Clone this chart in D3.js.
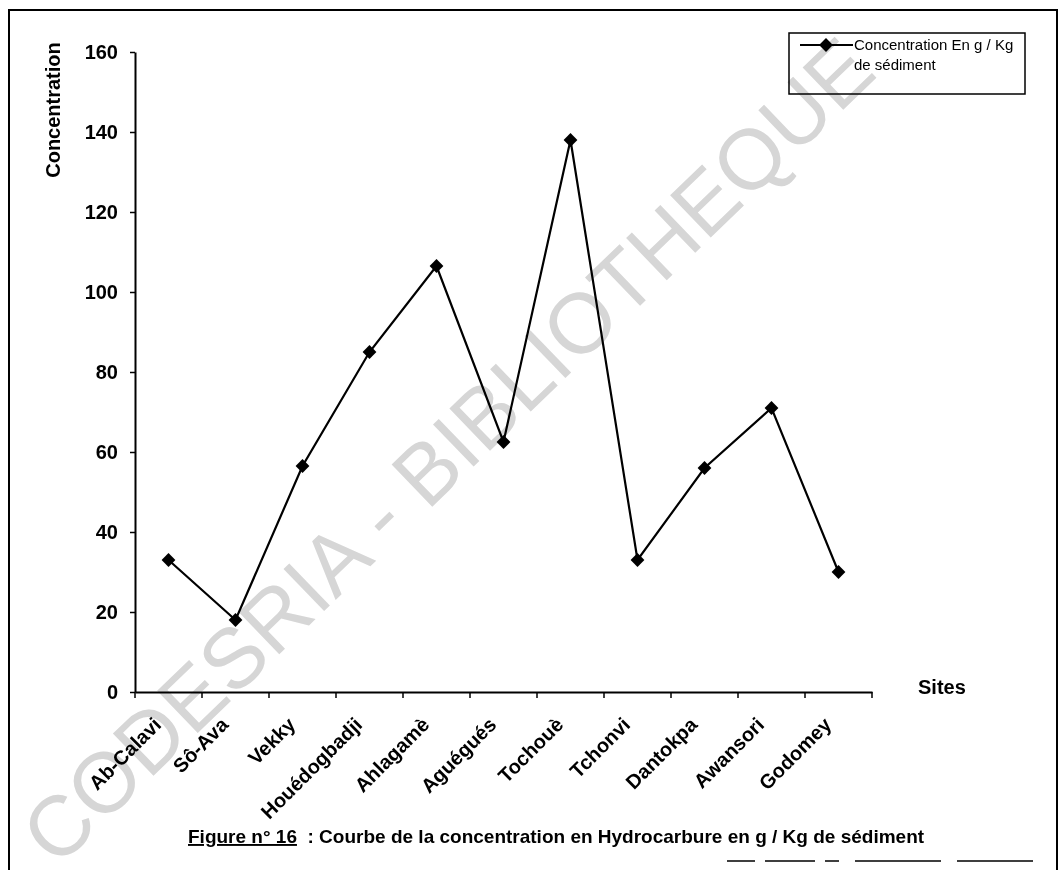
<!DOCTYPE html>
<html>
<head>
<meta charset="utf-8">
<script src="https://cdn.jsdelivr.net/npm/d3@7"></script>
<style>
  html, body { margin: 0; padding: 0; background: #fff; }
  svg { display: block; }
  text { font-family: Arial, "Liberation Sans", Helvetica, sans-serif; }
</style>
</head>
<body>
<svg id="chart" width="1060" height="870"></svg>
<script>
const sites = ["Ab-Calavi", "Sô-Ava", "Vekky", "Houédogbadji", "Ahlagamè", "Aguégués",
               "Tochouè", "Tchonvi", "Dantokpa", "Awansori", "Godomey"];
const concentration = [33, 18, 56.5, 85, 106.5, 62.5, 138, 33, 56, 71, 30];
const yTicks = [0, 20, 40, 60, 80, 100, 120, 140, 160];
const seriesName = ["Concentration En g / Kg", "de sédiment"];
const yTitle = "Concentration";
const xTitle = "Sites";
const captionLead = "Figure n° 16";
const captionRest = "  : Courbe de la concentration en Hydrocarbure en g / Kg de sédiment";
const watermark = "CODESRIA - BIBLIOTHEQUE";

const svg = d3.select("#chart");

// page frame
svg.append("path")
  .attr("d", "M9,870 V10 H1057 V870")
  .attr("fill", "none").attr("stroke", "#000").attr("stroke-width", 2);
svg.append("line")
  .attr("x1", 727).attr("x2", 1057).attr("y1", 861).attr("y2", 861)
  .attr("stroke", "#000").attr("stroke-width", 1.5)
  .attr("stroke-dasharray", "28,10,50,10,14,16,86,16,76");

const x = d3.scaleBand().domain(sites).range([135, 872]).padding(0);
const y = d3.scaleLinear().domain([0, 160]).range([692, 52]);
const cx = d => x(d) + x.bandwidth() / 2;

// Y axis
const gy = svg.append("g").attr("transform", "translate(135,0)")
  .call(d3.axisLeft(y).tickValues(yTicks).tickSize(5).tickSizeOuter(0).tickPadding(12));
gy.select(".domain").attr("stroke", "#000").attr("stroke-width", 2);
gy.selectAll(".tick line").attr("stroke", "#000").attr("stroke-width", 1.5);
gy.selectAll(".tick text").style("font-size", "20px").style("font-weight", "bold").attr("fill", "#000");

// X axis
const gx = svg.append("g").attr("transform", "translate(0,692)")
  .call(d3.axisBottom(x).tickSize(0).tickSizeOuter(0));
gx.select(".domain").attr("stroke", "#000").attr("stroke-width", 2);
gx.selectAll(".tick text")
  .attr("x", 0).attr("y", 0).attr("dy", 0)
  .attr("transform", "translate(-6,34) rotate(-45)")
  .style("text-anchor", "end")
  .style("font-size", "20px").style("font-weight", "bold").attr("fill", "#000");
const bounds = sites.map(s => x(s)).concat([x.range()[1]]);
svg.append("g").selectAll("line").data(bounds).join("line")
  .attr("x1", d => d).attr("x2", d => d).attr("y1", 692).attr("y2", 698)
  .attr("stroke", "#000").attr("stroke-width", 1.5);

// axis titles
svg.append("text")
  .attr("transform", "translate(60,110) rotate(-90)")
  .attr("text-anchor", "middle")
  .style("font-size", "20px").style("font-weight", "bold")
  .text(yTitle);
svg.append("text")
  .attr("x", 918).attr("y", 694)
  .style("font-size", "20px").style("font-weight", "bold")
  .text(xTitle);

// line + markers
const data = sites.map((s, i) => ({ s, v: concentration[i] }));
svg.append("path")
  .datum(data)
  .attr("fill", "none").attr("stroke", "#000").attr("stroke-width", 2.2)
  .attr("d", d3.line().x(d => cx(d.s)).y(d => y(d.v)));
const diamond = d3.symbol().type(d3.symbolSquare).size(95);
svg.append("g").selectAll("path").data(data).join("path")
  .attr("d", diamond)
  .attr("transform", d => `translate(${cx(d.s)},${y(d.v)}) rotate(45)`)
  .attr("fill", "#000");

// legend
const lg = svg.append("g");
lg.append("rect").attr("x", 789).attr("y", 33).attr("width", 236).attr("height", 61)
  .attr("fill", "#fff").attr("stroke", "#000").attr("stroke-width", 1.5);
lg.append("line").attr("x1", 800).attr("x2", 853).attr("y1", 45).attr("y2", 45)
  .attr("stroke", "#000").attr("stroke-width", 2);
lg.append("path").attr("d", diamond).attr("transform", "translate(826,45) rotate(45)").attr("fill", "#000");
lg.selectAll("text.lt").data(seriesName).join("text")
  .attr("class", "lt")
  .attr("x", 854).attr("y", (d, i) => 50 + i * 20)
  .style("font-size", "15px")
  .text(d => d);

// caption
const cap = svg.append("text").attr("x", 188).attr("y", 843)
  .style("font-size", "19px").style("font-weight", "bold");
cap.append("tspan").style("text-decoration", "underline").text(captionLead);
cap.append("tspan").attr("xml:space", "preserve").style("white-space", "pre").text(captionRest);

// watermark overlay (multiply so black stays black)
svg.append("text")
  .attr("transform", "translate(468,472) rotate(-44)")
  .attr("text-anchor", "middle")
  .style("font-size", "85px")
  .style("fill", "#d6d6d6")
  .style("mix-blend-mode", "multiply")
  .text(watermark);
</script>
</body>
</html>
